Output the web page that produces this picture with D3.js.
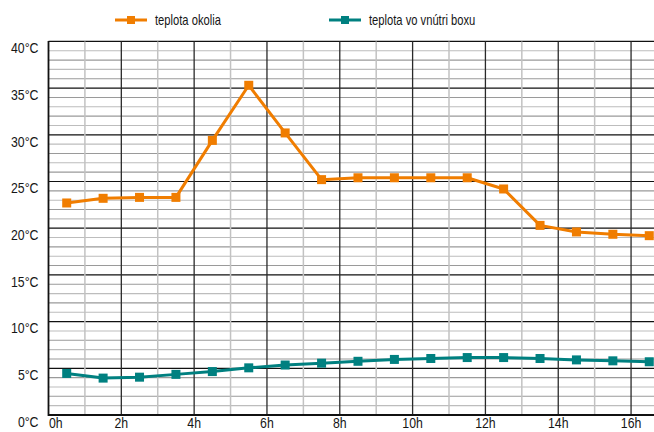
<!DOCTYPE html>
<html>
<head>
<meta charset="utf-8">
<script src="https://cdn.jsdelivr.net/npm/d3@7"></script>
<style>
  html, body { margin: 0; padding: 0; background: #fff; }
  svg { display: block; }
  text { font-family: "Liberation Sans", Arial, sans-serif; fill: #161616; }
</style>
</head>
<body>
<svg id="chart" width="654" height="432"></svg>
<script>
// Measurement times (hours) and temperatures (°C)
const hours = [0.5, 1.5, 2.5, 3.5, 4.5, 5.5, 6.5, 7.5, 8.5, 9.5, 10.5, 11.5, 12.5, 13.5, 14.5, 15.5, 16.5];
const outside = [22.7, 23.2, 23.3, 23.3, 29.4, 35.3, 30.2, 25.2, 25.4, 25.4, 25.4, 25.4, 24.2, 20.3, 19.6, 19.35, 19.2];
const inside = [4.45, 3.95, 4.05, 4.35, 4.65, 5.05, 5.35, 5.55, 5.75, 5.95, 6.05, 6.15, 6.15, 6.05, 5.9, 5.8, 5.7];

const seriesNames = ["teplota okolia", "teplota vo vnútri boxu"];
const seriesColors = ["#f07d00", "#008080"];

const yTicks = [0, 5, 10, 15, 20, 25, 30, 35, 40];
const xTicks = [0, 2, 4, 6, 8, 10, 12, 14, 16];

(function () {
  const svg = d3.select("#chart");
  const pLeft = 48.5, pRight = 654, pTop = 41.4, pBottom = 415;
  const narrow = 0.82; // horizontal squeeze for a narrow face

  const x = d3.scaleLinear().domain([0, 16.63]).range([pLeft, pRight]);
  const y = d3.scaleLinear().domain([0, 40]).range([pBottom, pTop]);

  const grid = svg.append("g");

  // horizontal grid: every 1 °C, black on multiples of 5
  d3.range(1, 41).forEach(v => {
    grid.append("line")
      .attr("x1", pLeft).attr("x2", pRight)
      .attr("y1", y(v)).attr("y2", y(v))
      .attr("stroke", v % 5 === 0 ? "#111" : (v % 2 === 0 ? "#9a9a9a" : "#bdbdbd"))
      .attr("stroke-width", v % 5 === 0 ? 1.2 : 1.1);
  });

  // vertical grid: every hour, dark on even hours
  d3.range(1, 17).forEach(h => {
    grid.append("line")
      .attr("x1", x(h)).attr("x2", x(h))
      .attr("y1", pTop).attr("y2", pBottom)
      .attr("stroke", h % 2 === 0 ? "#2a2a2a" : "#c2c2c2")
      .attr("stroke-width", h % 2 === 0 ? 1.3 : 1.5);
  });

  // axis lines
  svg.append("line").attr("x1", pLeft).attr("x2", pLeft).attr("y1", pTop - 0.5).attr("y2", pBottom + 1)
    .attr("stroke", "#111").attr("stroke-width", 1.8);
  svg.append("line").attr("x1", pLeft).attr("x2", pRight).attr("y1", pBottom).attr("y2", pBottom)
    .attr("stroke", "#111").attr("stroke-width", 1.8);

  // y labels, sitting just below their gridline
  svg.append("g").selectAll("text").data(yTicks).join("text")
    .attr("transform", d => `translate(38.5,${y(d) + 11.8}) scale(${narrow},1)`)
    .attr("text-anchor", "end")
    .attr("font-size", 15)
    .text(d => d + "°C");

  // x labels
  svg.append("g").selectAll("text").data(xTicks).join("text")
    .attr("transform", d => `translate(${d === 0 ? x(d) + 0.5 : x(d)},428) scale(${narrow},1)`)
    .attr("text-anchor", d => d === 0 ? "start" : "middle")
    .attr("font-size", 15)
    .text(d => d + "h");

  // data series
  const line = d3.line().x((d, i) => x(hours[i])).y(d => y(d));
  [outside, inside].forEach((vals, k) => {
    const g = svg.append("g");
    g.append("path").datum(vals)
      .attr("d", line)
      .attr("fill", "none")
      .attr("stroke", seriesColors[k])
      .attr("stroke-width", 3)
      .attr("stroke-linejoin", "round");
    g.selectAll("rect").data(vals).join("rect")
      .attr("x", (d, i) => x(hours[i]) - 4.5)
      .attr("y", d => y(d) - 4.5)
      .attr("width", 9).attr("height", 9)
      .attr("fill", seriesColors[k]);
  });

  // legend
  const legendX = [115, 329];
  seriesNames.forEach((name, k) => {
    const g = svg.append("g").attr("transform", `translate(${legendX[k]},20)`);
    g.append("line").attr("x1", 0).attr("x2", 32).attr("y1", 0).attr("y2", 0)
      .attr("stroke", seriesColors[k]).attr("stroke-width", 3);
    g.append("rect").attr("x", 12).attr("y", -4).attr("width", 8).attr("height", 8)
      .attr("fill", seriesColors[k]);
    g.append("text")
      .attr("transform", `translate(40,5) scale(0.8,1)`)
      .attr("font-size", 14)
      .text(name);
  });
})();
</script>
</body>
</html>
